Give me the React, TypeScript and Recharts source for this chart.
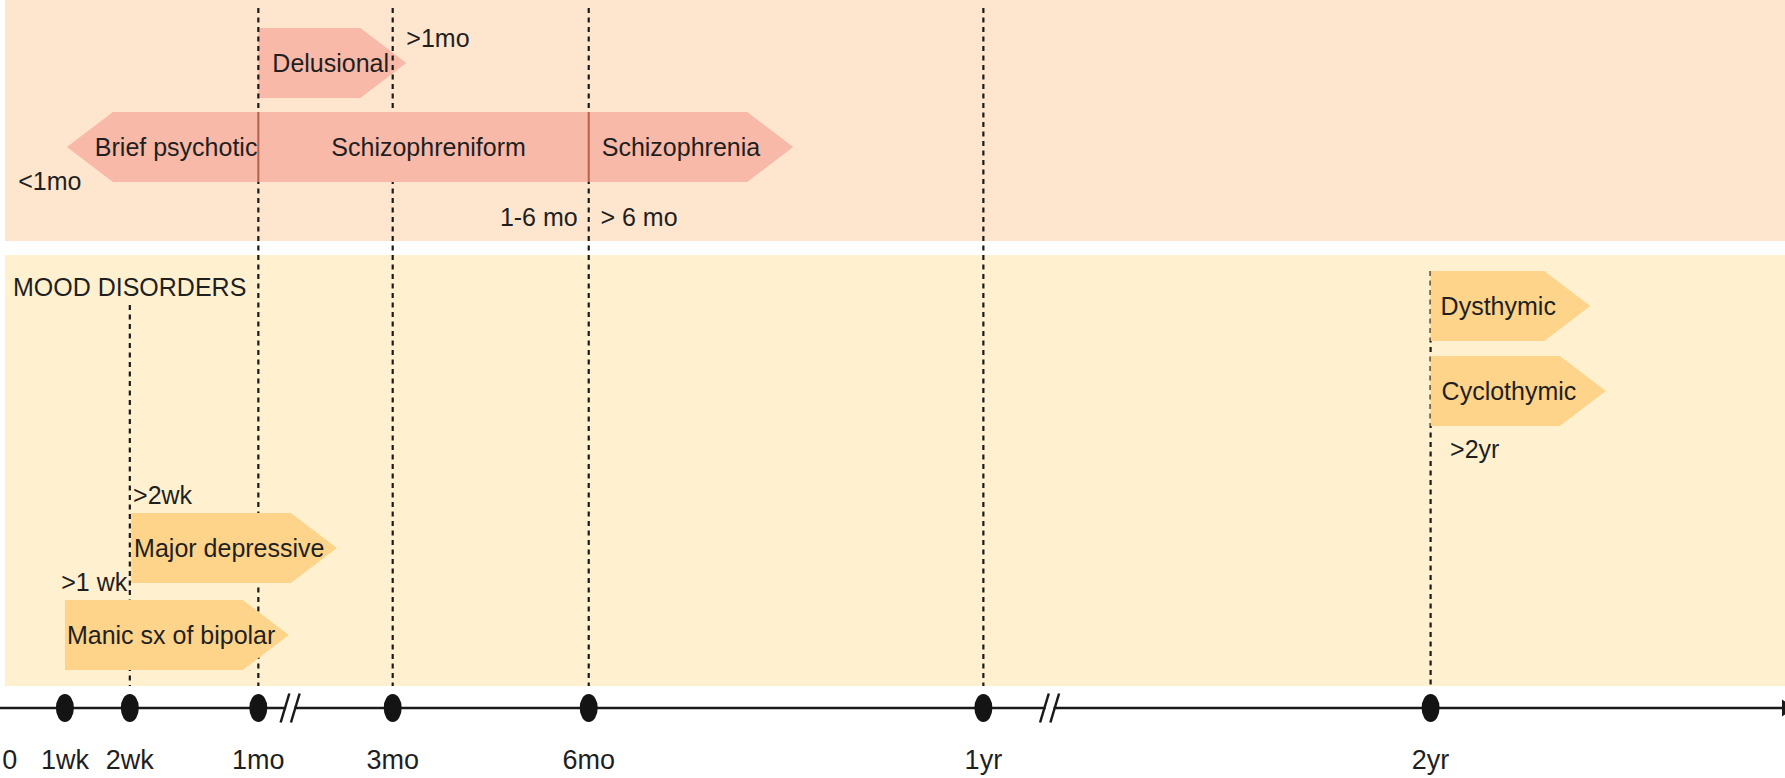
import React from 'react';
import {
  ComposedChart,
  XAxis,
  YAxis,
  ReferenceArea,
  ReferenceLine,
  ReferenceDot,
  Scatter,
} from 'recharts';

// ---------------- data (timeline positions) ----------------
const tickLabels = ['0', '1wk', '2wk', '1mo', '3mo', '6mo', '1yr', '2yr'];
const tickPositions = [0.15, 1.0, 2.0, 3.98, 6.05, 9.07, 15.15, 22.04];
const dotTicks = ['1wk', '2wk', '1mo', '3mo', '6mo', '1yr', '2yr'];
const breakPositions = [4.47, 16.17];
const X_MAX = 27.5;

const disorderNames = [
  'Delusional',
  'Brief psychotic',
  'Schizophreniform',
  'Schizophrenia',
  'Dysthymic',
  'Cyclothymic',
  'Major depressive',
  'Manic sx of bipolar',
];
const disorderStart = [3.98, 1.03, 3.98, 9.07, 22.04, 22.04, 2.02, 1.0];
const disorderEnd = [6.26, 3.98, 9.07, 12.22, 24.5, 24.74, 5.19, 4.45];
const disorderGroup = ['psychotic', 'psychotic', 'psychotic', 'psychotic', 'mood', 'mood', 'mood', 'mood'];

const annotationTexts = ['>1mo', '<1mo', '1-6 mo', '> 6 mo', 'MOOD DISORDERS', '>2yr', '>2wk', '>1 wk'];
const annotationX = [6.26, 0.28, 8.9, 9.25, 0.2, 22.34, 2.05, 1.96];

// ---------------- layout & styles ----------------
const W = 1785;
const H = 778;
const AXIS_H = 70;
const PLOT_H = H - AXIS_H; // 708
const FONT = '"Liberation Sans", Arial, Helvetica, sans-serif';
const TICK_FONT = '"Liberation Sans Narrow", "Arial Narrow", "Liberation Sans", Arial, sans-serif';
const TEXT_COLOR = '#1f1f1f';
const TIP = 46;

const COLORS = {
  psychoticBand: '#FEE6CE',
  moodBand: '#FFF1D0',
  psychotic: '#F8B9A9',
  mood: '#FED38A',
  divider: '#B2624D',
  line: '#1a1a1a',
};

const bands = [
  { y1: 0, y2: 241, fill: COLORS.psychoticBand },
  { y1: 255, y2: 686, fill: COLORS.moodBand },
];
const BAND_X0 = 0.077;

// per-disorder layout (same order as disorderNames)
const disorderRows: [number, number][] = [
  [28, 98],
  [112, 182],
  [112, 182],
  [112, 182],
  [271, 341],
  [356, 426],
  [513, 583],
  [600, 670],
];
const disorderPointing = ['right', 'left', 'none', 'right', 'right', 'right', 'right', 'right'];
const disorderTextDx = [14, 28, 73, 13, 10, 11, 3, 2];
const disorderDivider = [false, false, true, true, false, false, false, false];

const annotationY = [38, 181, 217, 217, 287, 449, 495, 582];
const annotationAnchor = ['start', 'start', 'end', 'start', 'start', 'start', 'start', 'end'];

const dashedLines = [
  { tick: '2wk', y1: 305, y2: 686 },
  { tick: '1mo', y1: 8, y2: 686 },
  { tick: '3mo', y1: 8, y2: 686 },
  { tick: '6mo', y1: 8, y2: 686 },
  { tick: '1yr', y1: 8, y2: 686 },
  { tick: '2yr', y1: 271, y2: 686 },
];

const posOf = (label: string) => tickPositions[tickLabels.indexOf(label)];

const dotData = dotTicks.map((t) => ({ x: posOf(t), y: PLOT_H }));

// ---------------- shapes ----------------
const makeArrowShape = (i: number) => (p: any) => {
  const x = Number(p.x);
  const y = Number(p.y);
  const w = Number(p.width);
  const h = Number(p.height);
  const dir = disorderPointing[i];
  let d = '';
  if (dir === 'right') {
    d = `M${x},${y} L${x + w - TIP},${y} L${x + w},${y + h / 2} L${x + w - TIP},${y + h} L${x},${y + h} Z`;
  } else if (dir === 'left') {
    d = `M${x + TIP},${y} L${x + w},${y} L${x + w},${y + h} L${x + TIP},${y + h} L${x},${y + h / 2} Z`;
  } else {
    d = `M${x},${y} L${x + w},${y} L${x + w},${y + h} L${x},${y + h} Z`;
  }
  const fill = disorderGroup[i] === 'mood' ? COLORS.mood : COLORS.psychotic;
  return (
    <g>
      <path d={d} fill={fill} stroke="none" />
      {disorderDivider[i] && (
        <line x1={x} y1={y} x2={x} y2={y + h} stroke={COLORS.divider} strokeWidth={2} />
      )}
      <text
        x={x + disorderTextDx[i]}
        y={y + h / 2}
        dominantBaseline="central"
        textAnchor="start"
        fontFamily={FONT}
        fontSize={25}
        fill={TEXT_COLOR}
      >
        {disorderNames[i]}
      </text>
    </g>
  );
};

const makeAnnotationShape = (i: number) => (p: any) => (
  <text
    x={p.cx}
    y={p.cy}
    dominantBaseline="central"
    textAnchor={annotationAnchor[i] as any}
    fontFamily={FONT}
    fontSize={25}
    fill={TEXT_COLOR}
  >
    {annotationTexts[i]}
  </text>
);

const breakShape = (p: any) => {
  const cx = Number(p.cx);
  const cy = Number(p.cy);
  return (
    <g>
      <rect x={cx - 4} y={cy - 3} width={8} height={6} fill="#ffffff" />
      <line x1={cx - 9.5} y1={cy + 14.5} x2={cx - 0.8} y2={cy - 14.5} stroke={COLORS.line} strokeWidth={2.5} />
      <line x1={cx + 0.8} y1={cy + 14.5} x2={cx + 9.5} y2={cy - 14.5} stroke={COLORS.line} strokeWidth={2.5} />
    </g>
  );
};

const arrowHeadShape = (p: any) => {
  const cx = Number(p.cx);
  const cy = Number(p.cy);
  return <path d={`M${cx - 3},${cy - 8.5} L${cx + 10},${cy} L${cx - 3},${cy + 8.5} Z`} fill={COLORS.line} />;
};

const dotShape = (p: any) => (
  <ellipse cx={p.cx} cy={p.cy} rx={9} ry={14} fill="#141414" />
);

const renderTick = (p: any) => {
  const i = tickPositions.indexOf(p.payload.value);
  return (
    <text
      x={p.x}
      y={PLOT_H + 51.5}
      textAnchor="middle"
      dominantBaseline="central"
      fontFamily={TICK_FONT}
      fontSize={27}
      fill={TEXT_COLOR}
    >
      {i >= 0 ? tickLabels[i] : ''}
    </text>
  );
};

export default function App() {
  const delusionalIdx = 0;
  const otherIdx = disorderNames.map((_, i) => i).filter((i) => i !== delusionalIdx);
  return (
    <div style={{ position: 'absolute', left: 0, top: 0, width: W, height: H, background: '#ffffff' }}>
      <ComposedChart width={W} height={H} margin={{ top: 0, right: 0, bottom: 0, left: 0 }} data={dotData}>
        <XAxis
          dataKey="x"
          type="number"
          domain={[0, X_MAX]}
          ticks={tickPositions}
          interval={0}
          height={AXIS_H}
          tickLine={false}
          tickSize={0}
          tickMargin={0}
          axisLine={{ stroke: COLORS.line, strokeWidth: 2.6 }}
          tick={renderTick}
        />
        <YAxis type="number" dataKey="y" domain={[0, PLOT_H]} reversed hide />

        {bands.map((b, i) => (
          <ReferenceArea
            key={`band-${i}`}
            x1={BAND_X0}
            x2={X_MAX}
            y1={b.y1}
            y2={b.y2}
            fill={b.fill}
            fillOpacity={1}
            stroke="none"
            ifOverflow="visible"
            zIndex={10}
          />
        ))}

        <ReferenceArea
          key="arrow-delusional"
          x1={disorderStart[delusionalIdx]}
          x2={disorderEnd[delusionalIdx]}
          y1={disorderRows[delusionalIdx][0]}
          y2={disorderRows[delusionalIdx][1]}
          shape={makeArrowShape(delusionalIdx)}
          ifOverflow="visible"
          zIndex={20}
        />

        {dashedLines.map((l) => (
          <ReferenceLine
            key={`dash-${l.tick}`}
            segment={[
              { x: posOf(l.tick), y: l.y1 },
              { x: posOf(l.tick), y: l.y2 },
            ]}
            stroke={COLORS.line}
            strokeWidth={2.2}
            strokeDasharray="5 4.5"
            ifOverflow="visible"
            zIndex={30}
          />
        ))}

        {otherIdx.map((i) => (
          <ReferenceArea
            key={`arrow-${i}`}
            x1={disorderStart[i]}
            x2={disorderEnd[i]}
            y1={disorderRows[i][0]}
            y2={disorderRows[i][1]}
            shape={makeArrowShape(i)}
            ifOverflow="visible"
            zIndex={40}
          />
        ))}

        {annotationTexts.map((t, i) => (
          <ReferenceDot
            key={`ann-${i}`}
            x={annotationX[i]}
            y={annotationY[i]}
            r={1}
            shape={makeAnnotationShape(i)}
            ifOverflow="visible"
            zIndex={50}
          />
        ))}

        {breakPositions.map((b, i) => (
          <ReferenceDot
            key={`brk-${i}`}
            x={b}
            y={PLOT_H}
            r={1}
            shape={breakShape}
            ifOverflow="visible"
            zIndex={700}
          />
        ))}
        <ReferenceDot x={X_MAX} y={PLOT_H} r={1} shape={arrowHeadShape} ifOverflow="visible" zIndex={700} />

        <Scatter data={dotData} dataKey="y" shape={dotShape} isAnimationActive={false} zIndex={800} />
      </ComposedChart>
    </div>
  );
}
